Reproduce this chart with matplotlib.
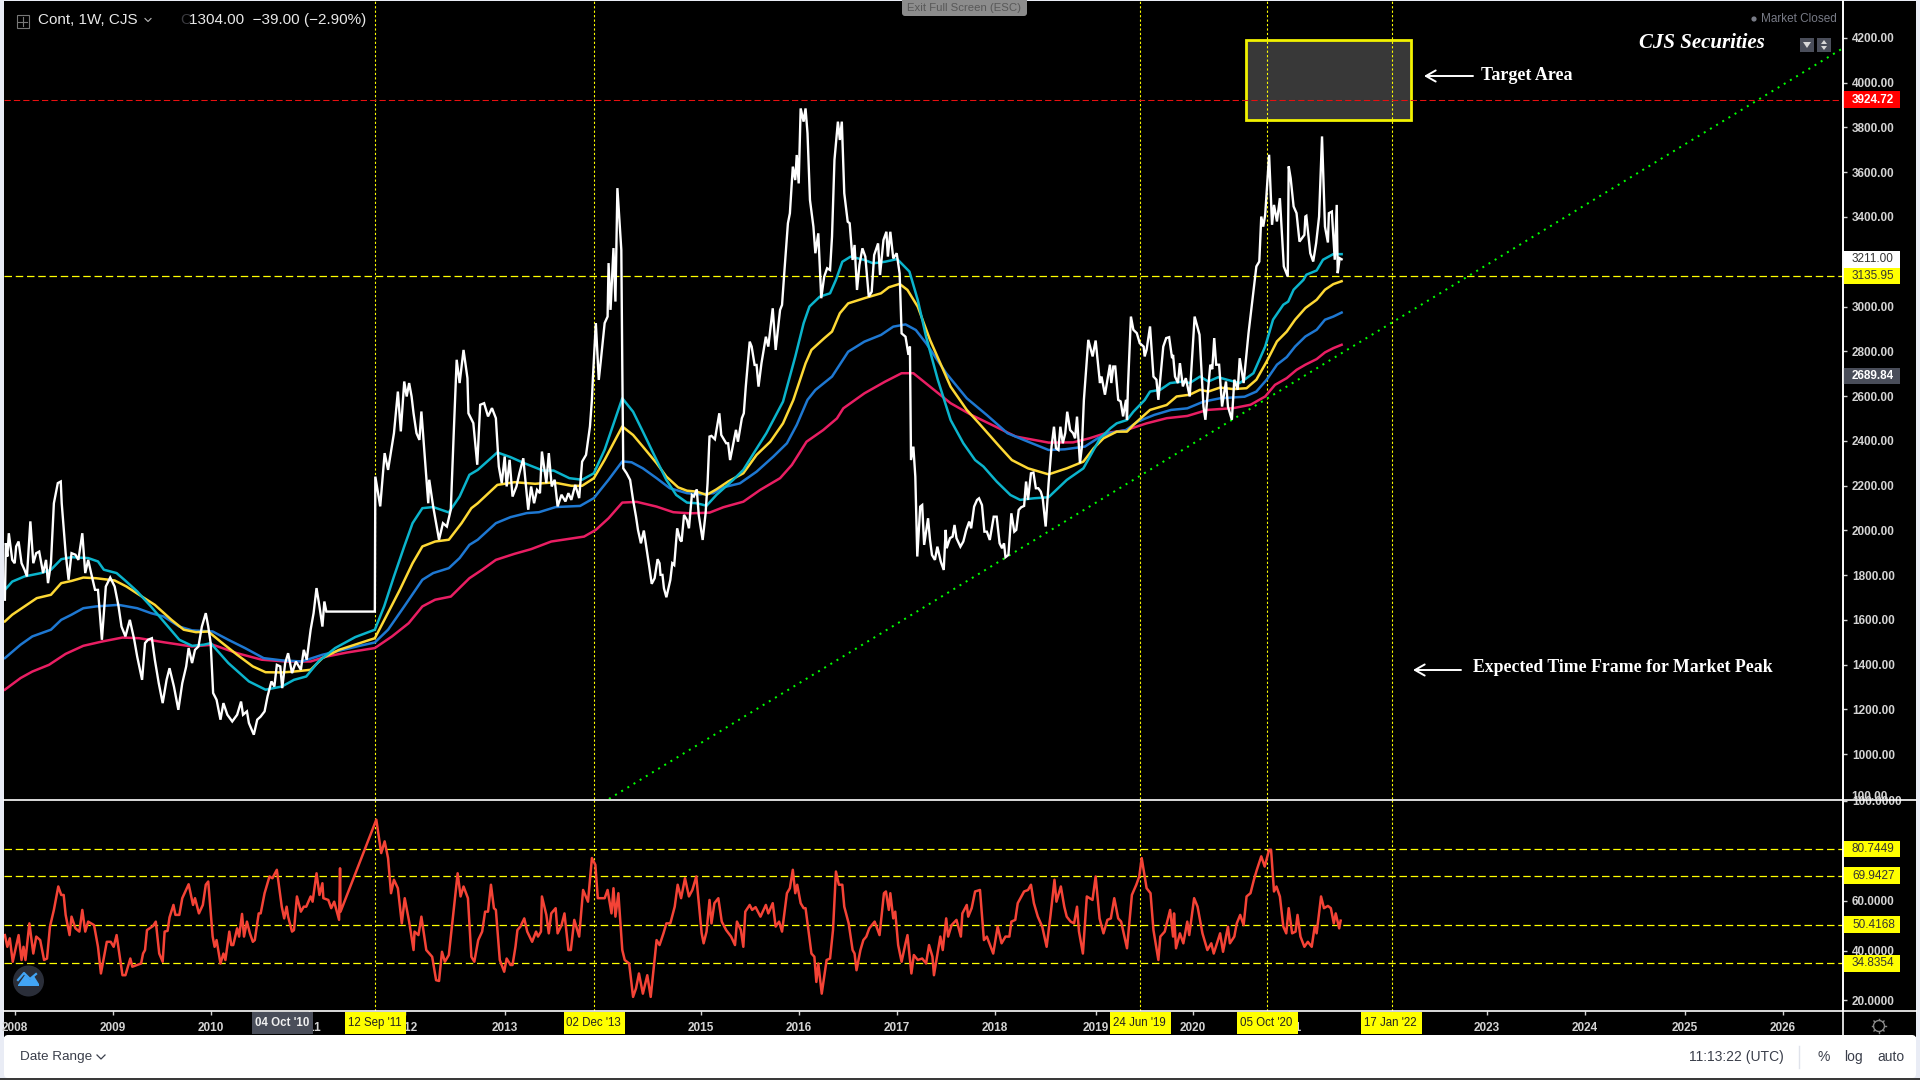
import matplotlib
matplotlib.use("Agg")
import matplotlib.pyplot as plt
from matplotlib.patches import Rectangle, Circle, Polygon, FancyBboxPatch

close_t = [2007.90,2007.91,2007.925,2007.94,2007.975,2008.00,2008.015,2008.04,2008.07,2008.10,2008.125,2008.16,2008.19,2008.22,2008.25,2008.29,2008.32,2008.34,2008.37,2008.40,2008.44,2008.47,2008.48,2008.52,2008.55,2008.58,2008.62,2008.65,2008.69,2008.72,2008.75,2008.78,2008.82,2008.85,2008.89,2008.93,2008.975,2009.02,2009.06,2009.09,2009.13,2009.175,2009.22,2009.25,2009.30,2009.33,2009.36,2009.40,2009.43,2009.47,2009.51,2009.55,2009.58,2009.625,2009.67,2009.71,2009.75,2009.775,2009.81,2009.84,2009.875,2009.91,2009.95,2009.975,2010.00,2010.025,2010.06,2010.10,2010.13,2010.17,2010.22,2010.27,2010.31,2010.33,2010.37,2010.39,2010.44,2010.475,2010.51,2010.55,2010.58,2010.62,2010.65,2010.675,2010.71,2010.73,2010.76,2010.79,2010.83,2010.87,2010.92,2010.95,2010.98,2011.02,2011.05,2011.08,2011.11,2011.14,2011.16,2011.18,2011.675,2011.68,2011.73,2011.775,2011.81,2011.87,2011.91,2011.94,2011.975,2012.00,2012.025,2012.05,2012.07,2012.10,2012.13,2012.15,2012.19,2012.22,2012.23,2012.27,2012.33,2012.37,2012.41,2012.45,2012.48,2012.51,2012.54,2012.58,2012.62,2012.63,2012.68,2012.72,2012.75,2012.79,2012.83,2012.87,2012.91,2012.94,2012.97,2013.00,2013.02,2013.05,2013.08,2013.12,2013.15,2013.19,2013.24,2013.27,2013.30,2013.33,2013.36,2013.38,2013.425,2013.45,2013.48,2013.51,2013.54,2013.58,2013.62,2013.65,2013.68,2013.72,2013.76,2013.79,2013.83,2013.87,2013.89,2013.90,2013.93,2013.96,2013.98,2014.02,2014.05,2014.06,2014.08,2014.11,2014.13,2014.15,2014.19,2014.20,2014.21,2014.244,2014.28,2014.31,2014.34,2014.36,2014.39,2014.42,2014.45,2014.475,2014.50,2014.53,2014.56,2014.58,2014.59,2014.61,2014.625,2014.65,2014.69,2014.71,2014.73,2014.76,2014.79,2014.805,2014.83,2014.86,2014.88,2014.91,2014.93,2014.96,2014.98,2015.02,2015.05,2015.07,2015.09,2015.11,2015.145,2015.19,2015.21,2015.26,2015.28,2015.30,2015.36,2015.38,2015.42,2015.44,2015.46,2015.50,2015.52,2015.55,2015.57,2015.59,2015.62,2015.665,2015.69,2015.735,2015.765,2015.81,2015.83,2015.855,2015.89,2015.91,2015.94,2015.965,2015.98,2016.00,2016.02,2016.05,2016.07,2016.09,2016.115,2016.15,2016.17,2016.20,2016.23,2016.26,2016.29,2016.32,2016.34,2016.365,2016.40,2016.42,2016.44,2016.465,2016.50,2016.52,2016.55,2016.57,2016.595,2016.62,2016.65,2016.68,2016.715,2016.745,2016.77,2016.81,2016.83,2016.865,2016.895,2016.91,2016.935,2016.965,2017.00,2017.03,2017.05,2017.09,2017.12,2017.135,2017.146,2017.17,2017.19,2017.21,2017.24,2017.26,2017.28,2017.32,2017.34,2017.36,2017.39,2017.415,2017.45,2017.48,2017.50,2017.51,2017.544,2017.57,2017.59,2017.61,2017.65,2017.68,2017.71,2017.74,2017.76,2017.79,2017.82,2017.84,2017.87,2017.895,2017.92,2017.95,2017.99,2018.02,2018.05,2018.075,2018.095,2018.11,2018.14,2018.17,2018.20,2018.22,2018.245,2018.27,2018.30,2018.32,2018.34,2018.37,2018.395,2018.42,2018.445,2018.47,2018.49,2018.52,2018.55,2018.58,2018.605,2018.625,2018.65,2018.67,2018.695,2018.72,2018.74,2018.77,2018.80,2018.82,2018.84,2018.87,2018.89,2018.91,2018.955,2018.999,2019.03,2019.074,2019.09,2019.125,2019.176,2019.19,2019.21,2019.23,2019.26,2019.285,2019.31,2019.34,2019.35,2019.36,2019.39,2019.415,2019.45,2019.48,2019.52,2019.53,2019.55,2019.585,2019.62,2019.65,2019.67,2019.72,2019.75,2019.78,2019.81,2019.82,2019.84,2019.87,2019.89,2019.92,2019.95,2019.99,2020.04,2020.09,2020.13,2020.15,2020.18,2020.20,2020.22,2020.24,2020.26,2020.29,2020.32,2020.36,2020.38,2020.42,2020.445,2020.48,2020.50,2020.54,2020.59,2020.67,2020.70,2020.72,2020.74,2020.76,2020.80,2020.83,2020.85,2020.88,2020.91,2020.95,2020.99,2021.00,2021.02,2021.05,2021.08,2021.11,2021.16,2021.17,2021.18,2021.22,2021.25,2021.28,2021.31,2021.34,2021.37,2021.40,2021.41,2021.44,2021.47,2021.49,2021.50,2021.52,2021.54]
close_p = [1690,1943,1883,1987,1868,1853,1928,1950,1853,1824,1794,2040,1853,1898,1905,1809,1868,1764,1853,2121,2211,2218,2121,1898,1779,1898,1891,1868,1987,1809,1868,1809,1734,1734,1511,1749,1789,1749,1660,1570,1526,1600,1511,1436,1332,1496,1511,1518,1422,1317,1228,1332,1384,1302,1198,1317,1392,1474,1407,1466,1481,1570,1630,1570,1496,1273,1243,1154,1228,1176,1146,1176,1235,1176,1191,1139,1087,1154,1168,1191,1258,1325,1302,1399,1392,1295,1407,1451,1362,1414,1377,1466,1422,1556,1630,1742,1660,1570,1682,1637,1637,2240,2107,2345,2270,2434,2620,2442,2665,2598,2658,2598,2523,2434,2404,2531,2300,2121,2226,2107,1958,2032,2017,2092,2434,2762,2658,2806,2680,2523,2479,2293,2561,2568,2509,2546,2501,2285,2211,2330,2196,2315,2151,2196,2255,2322,2092,2196,2121,2181,2166,2352,2211,2345,2196,2226,2107,2159,2129,2166,2136,2203,2144,2307,2337,2464,2583,2680,2926,2672,2754,2926,2955,3194,2985,3261,3022,3529,3253,2732,2277,2255,2225,2136,2061,2002,1942,1999,1912,1838,1761,1786,1871,1853,1801,1801,1741,1701,1778,1853,1845,2009,1957,1950,2069,2046,2009,2158,2151,2183,2069,1957,2076,2210,2419,2422,2407,2523,2426,2389,2389,2314,2449,2396,2501,2523,2642,2843,2821,2739,2739,2642,2746,2865,2821,2992,2806,2985,3007,3163,3372,3416,3625,3565,3677,3550,3885,3826,3885,3774,3476,3357,3238,3327,3037,3133,3171,3163,3312,3655,3826,3744,3826,3506,3379,3372,3208,3275,3074,3186,3260,3223,3044,3066,3230,3282,3141,3297,3334,3223,3334,3215,3238,3148,2880,2865,2784,2821,2314,2374,2240,1883,2106,2113,1935,2054,1957,1890,1868,1927,1860,1823,2002,1920,1965,1972,2024,1965,1927,1950,2002,2039,2009,2106,2136,2143,2113,1994,1994,1957,2061,2061,1942,1920,1942,1880,1890,2076,1994,2002,2091,2103,2109,2218,2136,2255,2258,2188,2188,2173,2143,2017,2210,2374,2463,2367,2359,2463,2389,2434,2530,2448,2434,2411,2508,2300,2374,2582,2851,2777,2848,2658,2687,2606,2740,2658,2732,2732,2583,2576,2509,2583,2494,2643,2955,2896,2881,2836,2821,2777,2807,2911,2687,2673,2583,2821,2859,2863,2769,2784,2687,2658,2747,2643,2680,2598,2955,2874,2553,2494,2643,2740,2720,2859,2740,2740,2553,2665,2553,2494,2673,2628,2769,2658,2881,3179,3201,3402,3357,3410,3678,3365,3454,3380,3484,3179,3134,3626,3573,3447,3417,3290,3320,3402,3405,3238,3201,3283,3402,3760,3357,3286,3417,3424,3209,3454,3149,3216,3211]

ema_cyan_t = [2007.90,2007.975,2008.10,2008.27,2008.37,2008.475,2008.58,2008.75,2008.85,2008.91,2009.04,2009.14,2009.25,2009.39,2009.52,2009.68,2009.81,2009.93,2010.00,2010.18,2010.39,2010.56,2010.725,2010.85,2010.975,2011.10,2011.27,2011.475,2011.675,2011.77,2011.87,2011.975,2012.06,2012.16,2012.27,2012.43,2012.54,2012.64,2012.725,2012.925,2013.06,2013.20,2013.39,2013.50,2013.66,2013.79,2013.91,2014.02,2014.20,2014.31,2014.41,2014.55,2014.65,2014.75,2014.86,2014.96,2015.06,2015.16,2015.33,2015.435,2015.54,2015.67,2015.84,2015.965,2016.05,2016.11,2016.215,2016.32,2016.38,2016.445,2016.53,2016.67,2016.76,2016.88,2017.005,2017.13,2017.215,2017.30,2017.42,2017.55,2017.68,2017.80,2017.885,2018.02,2018.16,2018.26,2018.395,2018.55,2018.735,2018.905,2018.99,2019.075,2019.18,2019.245,2019.35,2019.415,2019.53,2019.585,2019.69,2019.79,2019.925,2019.99,2020.095,2020.18,2020.28,2020.37,2020.50,2020.64,2020.76,2020.84,2020.945,2020.995,2021.05,2021.15,2021.18,2021.285,2021.35,2021.455,2021.54]
ema_cyan_p = [1734,1771,1794,1809,1824,1871,1880,1876,1861,1824,1809,1771,1727,1660,1593,1511,1484,1489,1496,1407,1325,1288,1302,1332,1347,1414,1474,1523,1556,1660,1794,1928,2032,2099,2104,2080,2151,2248,2270,2348,2327,2300,2267,2267,2233,2226,2255,2360,2590,2530,2441,2314,2225,2158,2124,2121,2110,2158,2225,2270,2344,2434,2575,2776,2925,3000,3044,3059,3119,3200,3223,3208,3193,3200,3212,3156,3029,2865,2672,2493,2389,2314,2285,2218,2158,2136,2143,2148,2225,2277,2344,2411,2456,2478,2493,2530,2582,2620,2628,2658,2665,2658,2687,2665,2684,2673,2658,2702,2821,2941,3008,3022,3075,3119,3142,3161,3209,3234,3234]

ema_yellow_t = [2007.90,2007.975,2008.10,2008.225,2008.37,2008.475,2008.58,2008.70,2008.83,2009.02,2009.14,2009.27,2009.43,2009.60,2009.725,2009.85,2009.975,2010.10,2010.27,2010.43,2010.56,2010.725,2010.85,2011.02,2011.14,2011.31,2011.52,2011.675,2011.79,2011.93,2012.06,2012.16,2012.29,2012.43,2012.56,2012.66,2012.725,2012.925,2013.10,2013.31,2013.50,2013.68,2013.79,2013.91,2014.02,2014.20,2014.31,2014.41,2014.55,2014.65,2014.77,2014.86,2014.96,2015.06,2015.16,2015.28,2015.435,2015.57,2015.71,2015.84,2015.945,2016.07,2016.13,2016.26,2016.34,2016.42,2016.505,2016.67,2016.84,2016.92,2017.03,2017.11,2017.215,2017.34,2017.55,2017.715,2017.84,2018.05,2018.175,2018.34,2018.55,2018.735,2018.905,2019.01,2019.11,2019.245,2019.35,2019.415,2019.585,2019.755,2019.856,2019.99,2020.095,2020.18,2020.30,2020.435,2020.57,2020.67,2020.775,2020.88,2020.98,2021.065,2021.17,2021.285,2021.37,2021.455,2021.54]
ema_yellow_p = [1593,1623,1660,1697,1712,1764,1774,1789,1786,1776,1749,1712,1667,1600,1556,1545,1548,1503,1444,1392,1366,1365,1369,1377,1429,1466,1496,1518,1615,1734,1853,1928,1950,1958,2032,2099,2121,2203,2215,2208,2214,2199,2199,2233,2315,2464,2426,2374,2300,2240,2192,2177,2173,2158,2183,2218,2255,2337,2396,2478,2582,2746,2806,2858,2888,2970,3014,3037,3059,3086,3101,3074,2999,2851,2642,2538,2478,2374,2314,2277,2250,2277,2307,2367,2411,2441,2441,2471,2538,2560,2598,2606,2628,2620,2638,2631,2635,2673,2754,2844,2888,2941,2993,3030,3075,3100,3113]

ema_blue_t = [2007.90,2008.06,2008.18,2008.37,2008.475,2008.58,2008.70,2008.83,2009.06,2009.25,2009.39,2009.52,2009.68,2009.81,2010.02,2010.18,2010.35,2010.54,2010.725,2010.93,2011.14,2011.35,2011.52,2011.675,2011.81,2011.975,2012.16,2012.27,2012.43,2012.54,2012.64,2012.725,2012.91,2013.06,2013.225,2013.35,2013.52,2013.77,2013.91,2014.06,2014.20,2014.295,2014.41,2014.55,2014.685,2014.86,2014.99,2015.13,2015.23,2015.40,2015.57,2015.74,2015.88,2015.98,2016.09,2016.17,2016.34,2016.505,2016.67,2016.84,2016.965,2017.09,2017.195,2017.30,2017.505,2017.715,2017.92,2018.13,2018.34,2018.55,2018.715,2018.92,2019.05,2019.17,2019.34,2019.46,2019.63,2019.80,2019.965,2020.13,2020.30,2020.55,2020.67,2020.775,2020.88,2020.98,2021.065,2021.17,2021.285,2021.37,2021.455,2021.54]
ema_blue_p = [1429,1489,1526,1556,1600,1623,1652,1660,1667,1652,1630,1615,1570,1553,1548,1511,1474,1429,1419,1414,1444,1466,1484,1499,1556,1660,1779,1809,1831,1876,1935,1958,2032,2059,2077,2081,2104,2109,2144,2226,2308,2304,2277,2233,2188,2166,2161,2166,2192,2210,2262,2329,2389,2471,2583,2627,2687,2798,2843,2873,2910,2920,2895,2836,2702,2590,2515,2434,2396,2359,2362,2374,2411,2434,2448,2486,2516,2538,2545,2575,2590,2597,2620,2673,2740,2774,2821,2866,2896,2941,2955,2973]

ema_pink_t = [2007.90,2008.06,2008.18,2008.35,2008.52,2008.70,2008.89,2009.10,2009.27,2009.52,2009.81,2010.02,2010.27,2010.52,2010.77,2011.02,2011.18,2011.39,2011.675,2011.85,2012.02,2012.16,2012.29,2012.45,2012.64,2012.77,2012.91,2013.10,2013.27,2013.475,2013.81,2013.93,2014.06,2014.20,2014.35,2014.55,2014.72,2014.89,2015.09,2015.23,2015.435,2015.605,2015.81,2015.93,2016.08,2016.25,2016.39,2016.455,2016.67,2016.88,2017.05,2017.17,2017.34,2017.55,2017.76,2018.01,2018.215,2018.55,2018.80,2018.965,2019.13,2019.34,2019.55,2019.755,2019.965,2020.17,2020.435,2020.61,2020.76,2020.86,2020.98,2021.08,2021.17,2021.285,2021.37,2021.455,2021.54]
ema_pink_p = [1288,1340,1369,1399,1448,1484,1503,1521,1518,1500,1481,1489,1451,1422,1414,1414,1436,1454,1474,1526,1585,1660,1690,1704,1786,1824,1868,1895,1916,1950,1972,2002,2054,2124,2127,2106,2081,2076,2079,2103,2128,2180,2233,2292,2396,2448,2500,2545,2612,2664,2702,2702,2642,2568,2516,2463,2419,2392,2393,2411,2434,2448,2478,2501,2511,2538,2546,2561,2598,2650,2680,2717,2740,2765,2795,2814,2829]

rsi_t = [2007.90,2007.925,2007.95,2007.98,2008.04,2008.07,2008.09,2008.11,2008.15,2008.19,2008.22,2008.26,2008.30,2008.33,2008.36,2008.40,2008.445,2008.475,2008.50,2008.52,2008.56,2008.58,2008.62,2008.66,2008.69,2008.72,2008.75,2008.81,2008.85,2008.88,2008.94,2008.98,2009.01,2009.04,2009.10,2009.13,2009.18,2009.20,2009.29,2009.31,2009.33,2009.35,2009.41,2009.44,2009.475,2009.51,2009.53,2009.56,2009.58,2009.62,2009.64,2009.68,2009.71,2009.775,2009.82,2009.84,2009.88,2009.92,2009.95,2009.975,2010.02,2010.04,2010.06,2010.10,2010.13,2010.15,2010.19,2010.21,2010.23,2010.27,2010.29,2010.32,2010.34,2010.37,2010.40,2010.43,2010.45,2010.49,2010.51,2010.55,2010.60,2010.63,2010.675,2010.725,2010.75,2010.775,2010.79,2010.83,2010.85,2010.88,2010.92,2010.95,2010.975,2011.02,2011.04,2011.08,2011.11,2011.14,2011.15,2011.20,2011.23,2011.26,2011.31,2011.32,2011.325,2011.69,2011.74,2011.775,2011.81,2011.84,2011.87,2011.91,2011.95,2011.98,2012.025,2012.07,2012.08,2012.12,2012.15,2012.20,2012.26,2012.30,2012.33,2012.36,2012.39,2012.43,2012.52,2012.55,2012.58,2012.625,2012.66,2012.69,2012.73,2012.77,2012.80,2012.83,2012.86,2012.89,2012.91,2012.95,2012.995,2013.02,2013.06,2013.08,2013.11,2013.13,2013.16,2013.20,2013.23,2013.28,2013.32,2013.34,2013.37,2013.38,2013.425,2013.45,2013.475,2013.52,2013.54,2013.58,2013.61,2013.65,2013.675,2013.71,2013.76,2013.80,2013.85,2013.89,2013.925,2013.95,2014.02,2014.05,2014.09,2014.11,2014.13,2014.16,2014.18,2014.20,2014.225,2014.27,2014.31,2014.34,2014.37,2014.41,2014.455,2014.49,2014.55,2014.58,2014.62,2014.65,2014.69,2014.735,2014.765,2014.80,2014.84,2014.88,2014.915,2014.955,2015.01,2015.03,2015.06,2015.09,2015.11,2015.14,2015.18,2015.215,2015.26,2015.31,2015.35,2015.37,2015.41,2015.435,2015.455,2015.50,2015.525,2015.56,2015.61,2015.665,2015.69,2015.735,2015.765,2015.80,2015.83,2015.88,2015.91,2015.94,2015.965,2015.985,2016.02,2016.05,2016.07,2016.13,2016.16,2016.18,2016.20,2016.235,2016.285,2016.32,2016.35,2016.38,2016.41,2016.445,2016.465,2016.51,2016.55,2016.57,2016.59,2016.63,2016.66,2016.69,2016.72,2016.775,2016.825,2016.87,2016.89,2016.92,2016.935,2016.965,2016.985,2017.015,2017.05,2017.09,2017.11,2017.15,2017.175,2017.215,2017.26,2017.30,2017.33,2017.365,2017.38,2017.445,2017.47,2017.505,2017.525,2017.56,2017.61,2017.655,2017.67,2017.715,2017.73,2017.765,2017.80,2017.85,2017.89,2017.92,2017.985,2018.03,2018.07,2018.11,2018.15,2018.17,2018.21,2018.235,2018.30,2018.34,2018.37,2018.40,2018.44,2018.485,2018.53,2018.57,2018.61,2018.63,2018.675,2018.71,2018.735,2018.775,2018.81,2018.84,2018.86,2018.90,2018.94,2018.998,2019.03,2019.07,2019.11,2019.15,2019.185,2019.22,2019.26,2019.29,2019.32,2019.35,2019.40,2019.445,2019.475,2019.50,2019.55,2019.59,2019.62,2019.67,2019.69,2019.735,2019.79,2019.82,2019.83,2019.85,2019.89,2019.925,2019.965,2019.985,2020.035,2020.07,2020.12,2020.17,2020.21,2020.235,2020.30,2020.33,2020.38,2020.40,2020.445,2020.47,2020.505,2020.54,2020.57,2020.61,2020.645,2020.675,2020.72,2020.755,2020.80,2020.82,2020.85,2020.875,2020.91,2020.945,2020.975,2021.00,2021.035,2021.07,2021.09,2021.12,2021.16,2021.195,2021.235,2021.265,2021.285,2021.33,2021.36,2021.40,2021.43,2021.46,2021.48,2021.515,2021.53]
rsi_v = [46.2,41.5,44.9,35.5,46.2,36.2,41.5,36.2,50.9,38.8,45.6,44.2,36.2,36.8,49.6,56.3,65.7,62.3,62.3,54.3,46.2,53.6,48.9,47.6,56.3,47.6,51.6,50.2,41.5,30.8,43.5,43.5,41.5,46.2,30.1,30.1,36.8,33.5,34.8,38.8,40.2,48.2,49.8,51.6,38.8,35.5,47.6,47.9,53.3,58.3,54.3,54.3,61,66.6,58.3,61,54.9,58.3,66.4,67.7,45.6,41.5,44.2,34.8,38.8,36.2,47.6,42.2,42.2,48.9,45.6,54.7,45.6,51.6,46.9,43.5,44.2,54.9,54.9,63,69.7,69,72.4,57.6,52.9,57.6,53.6,47.6,48.2,61.7,55.6,57.6,57.6,61.7,59.6,71,62.3,67,61,60.3,57,59.6,52.3,73,55.6,92.5,79.1,83.8,77.1,63,68.4,65,50.9,61,51.6,40.2,47.6,46.2,53.6,40.2,37.5,28.1,27.8,39.5,35.5,38.2,71,61.7,65.7,61,37.5,35.5,44.2,47.6,55.6,55.6,66.4,57,56.3,36.2,31.5,36.8,34.2,34.2,41.5,48.2,49.6,52.9,47.6,43.5,47.6,45.6,47.6,61.7,54.3,46.9,54.9,57,46.9,50.2,54.9,40.2,40.2,52.3,45.6,64.3,59.6,77.1,74.4,61,61,64.3,54.9,65,53.6,63,51.6,40.2,36.2,34.8,21.4,24.8,30.8,22.7,30.1,21.4,44.2,42.2,46.9,50.9,50.9,57.6,66.4,61,69,61.7,64.3,69.7,46.9,42.9,47.6,60.3,50.9,59,61,51.6,48.2,45.6,42.2,51.6,48.2,41.5,55.6,58.3,56.3,57.4,53.6,58.3,54.9,59,49.6,51.6,47.6,63,65,72.4,63,66.4,59,57,57,38.8,37.5,27.4,34.8,22.7,36.2,36.8,48.2,71.7,66.4,66.4,57.6,50.9,40.2,38.8,32.1,40.2,44.2,45.6,48.9,51.6,46.2,63,63.7,56.3,63,52.9,55.6,42.2,35.5,42.9,46.2,30.8,38.2,36.2,36.8,34.8,42.2,37.5,30.1,45.6,40.2,52.9,45.6,50.2,52.3,45.6,54.9,58.3,53.6,57,63.7,64.3,44.2,45.6,38.8,49.6,42.9,45.6,45.6,51.6,52.3,59,63.7,64.3,66.4,59,53.6,49.6,41.5,54.3,68.4,59.6,65.7,57.6,53.6,51.6,50.9,57.6,47.6,38.8,61.7,60.3,69.7,52.9,46.9,52.3,52.9,61,52.9,51.6,46.2,40.9,62.3,66.4,69.7,77.1,65,63,48.2,36.2,45.6,47.6,56.3,45.6,54.9,40.9,46.9,42.9,51.6,46.2,61,57.6,46.9,40.2,42.9,38.8,46.9,39.5,49.6,42.9,45.6,50.9,54.3,50.2,61.7,63,68.4,72.4,77.8,73.7,80.4,80.4,63.7,65.7,61.7,49.6,46.9,57,46.9,47.6,54.3,45.6,41.5,43.5,41.5,49.6,46.9,61.7,57,57.9,57,50.9,54.9,48.9,52]

price_ticks = [4200,4000,3800,3600,3400,3200,3000,2800,2600,2400,2200,2000,1800,1600,1400,1200,1000]
rsi_ticks = [100,80,60,40,20]
year_ticks = [2008,2009,2010,2011,2011.98,2013,2015,2016,2017,2018,2019.03,2020.02,2021,2023.02,2024.02,2025.04,2026.04]
year_labels = ['2008','2009','2010','2011','2012','2013','2015','2016','2017','2018','2019','2020','2021','2023','2024','2025','2026']
cycle_dates = [2011.68,2013.914,2019.487,2020.78,2022.05]
cycle_labels = ["12 Sep '11","02 Dec '13","24 Jun '19","05 Oct '20","17 Jan '22"]
resistance_level = 3924.72
support_level = 3135.95
last_close = 3211.00
cursor_price = 2689.84
rsi_levels = [80.7449,69.9427,50.4168,34.8354]
trend_t = [2014.064,2026.64]
trend_p = [800,4150]
target_t = [2020.565,2022.25]
target_p = [3834,4191]

SANS = 'Liberation Sans'
SERIF = 'Liberation Serif'
PAGE = '#e9ecf5'
SLATE = '#4a4e5a'
TICK = '#d4d4d4'
YEL = '#ffff00'

fig = plt.figure(figsize=(19.2,10.8), dpi=100, facecolor=PAGE)
L,R = 4,1843
def rect(top,bot): return [L/1920, 1-bot/1080, (R-L)/1920, (bot-top)/1080]
ax_p = fig.add_axes(rect(1,799), facecolor='black')
ax_r = fig.add_axes(rect(800,1011), facecolor='black', sharex=ax_p)
ov = fig.add_axes([0,0,1,1], facecolor='none', zorder=20)
ov.set_xlim(0,1920); ov.set_ylim(1080,0); ov.axis('off')
back = fig.add_axes([0,0,1,1], facecolor='none', zorder=-5)
back.set_xlim(0,1920); back.set_ylim(1080,0); back.axis('off')
back.add_patch(Rectangle((4,1),1912,1036,fc='black',ec='none'))
back.add_patch(FancyBboxPatch((6,1037),1908,39,boxstyle='round,pad=2,rounding_size=4',fc='white',ec='none'))
back.add_patch(Rectangle((0,1078),1920,2,fc='#3a3a3a',ec='none'))

ax_p.set_xlim(2007.891,2026.656)
ax_p.set_ylim(799.6,4365)
ax_r.set_ylim(15.74,100.4)

ax_p.add_patch(Rectangle((target_t[0],target_p[0]),target_t[1]-target_t[0],target_p[1]-target_p[0],fc='#383838',ec='#f2f200',lw=2,zorder=1))

for ax in (ax_p,ax_r):
    for d in cycle_dates:
        ax.axvline(d,color=YEL,lw=0.8,ls=(0,(2,2)),zorder=2)
    ax.set_facecolor('black')
    for s in ax.spines.values(): s.set_visible(False)
    ax.spines['right'].set_visible(True); ax.spines['right'].set_color('white'); ax.spines['right'].set_linewidth(1.2)
    ax.yaxis.tick_right()
    ax.tick_params(axis='y',colors=TICK,length=3,width=1,pad=3.4,labelsize=8.5)

dash = (0,(6,3))
ax_p.axhline(resistance_level,color='#e81010',lw=0.75,ls=dash,zorder=2)
ax_p.axhline(support_level,color=YEL,lw=0.9,ls=dash,zorder=2)
ax_p.plot(trend_t,trend_p,color='#00ff00',lw=1.44,ls=(0,(1,2.6)),zorder=3)
ax_p.plot(ema_pink_t,ema_pink_p,color='#e91e63',lw=1.8,zorder=4)
ax_p.plot(ema_blue_t,ema_blue_p,color='#1e78d2',lw=1.8,zorder=5)
ax_p.plot(ema_yellow_t,ema_yellow_p,color='#fdd835',lw=1.8,zorder=6)
ax_p.plot(ema_cyan_t,ema_cyan_p,color='#0bb4cc',lw=1.8,zorder=7)
ax_p.plot(close_t,close_p,color='white',lw=1.7,zorder=8,solid_joinstyle='miter')
ax_p.set_yticks(price_ticks)
ax_p.set_yticklabels([f'{v:.2f}' for v in price_ticks],fontfamily=SANS,fontweight='bold')
ax_p.tick_params(axis='x',bottom=False,labelbottom=False)

for v in rsi_levels:
    ax_r.axhline(v,color=YEL,lw=0.9,ls=dash,zorder=2)
ax_r.plot(rsi_t,rsi_v,color='#f44336',lw=1.8,zorder=5)
ax_r.set_yticks(rsi_ticks)
ax_r.set_yticklabels([f'{v:.4f}' for v in rsi_ticks],fontfamily=SANS,fontweight='bold')
ax_r.set_xticks(year_ticks)
ax_r.set_xticklabels(year_labels,fontfamily=SANS,fontweight='bold')
ax_r.tick_params(axis='x',colors=TICK,length=3,width=1,pad=5,labelsize=8.5)

def tag(ax,value,text,bg,fg,half,weight='normal'):
    tr = ax.get_yaxis_transform()
    ax.add_patch(Rectangle((1.0,value-half),57/1839,2*half,transform=tr,fc=bg,ec='none',clip_on=False,zorder=10))
    ax.text(1+9/1839,value,text,transform=tr,color=fg,fontsize=8.5,fontfamily=SANS,fontweight=weight,va='center',ha='left',zorder=11,clip_on=False)

tag(ax_p,resistance_level,f'{resistance_level:.2f}','#ff0000','white',37,'bold')
tag(ax_p,last_close,f'{last_close:.2f}','white','#333333',37)
tag(ax_p,support_level,f'{support_level:.2f}',YEL,'#333333',37)
tag(ax_p,cursor_price,f'{cursor_price:.2f}',SLATE,'white',37,'bold')
for v in rsi_levels:
    tag(ax_r,v,f'{v:.4f}',YEL,'#333333',3.4)

def tx(t): return 14.7+(t-2008)*98
for d,l in zip(cycle_dates,cycle_labels):
    ov.add_patch(Rectangle((tx(d)-30.5,1012),61,22,fc=YEL,ec='none'))
    ov.text(tx(d)-1,1023,l,color='#222222',fontsize=8.3,fontfamily=SANS,ha='center',va='center')
ov.add_patch(Rectangle((252,1012),61,22,fc=SLATE,ec='none'))
ov.text(282,1023,"04 Oct '10",color='#f0f0f0',fontsize=8.3,fontfamily=SANS,fontweight='bold',ha='center',va='center')

ov.plot([4,1916],[800,800],color='white',lw=1.2)
ov.plot([4,1916],[1011,1011],color='white',lw=1.2)
ov.plot([1843,1843],[1,1037],color='white',lw=1.2)
ov.text(1851,797,'100.00',color=TICK,fontsize=8.5,fontfamily=SANS,fontweight='bold',va='center')

ov.add_patch(Rectangle((16.5,15),12,13,fc='none',ec='#777777',lw=0.8))
ov.plot([22.5,22.5],[17,26],color='#777777',lw=0.8); ov.plot([18,27],[21.5,21.5],color='#777777',lw=0.8)
ov.text(38.5,20,'Cont, 1W, CJS',color='#e8e8e8',fontsize=11,fontfamily=SANS,va='center')
ov.plot([145,148,151],[18.5,21.5,18.5],color='#bbbbbb',lw=0.8)
ov.text(180,20,'C',color='#3a3a3f',fontsize=11,fontfamily=SANS,va='center')
ov.text(189,20,'1304.00  \u221239.00 (\u22122.90%)',color='#e8e8e8',fontsize=11,fontfamily=SANS,va='center')
ov.add_patch(FancyBboxPatch((902,-3),125,19,boxstyle='round,pad=0,rounding_size=3',fc='#8c8c8c',ec='none'))
ov.text(964,8,'Exit Full Screen (ESC)',color='#585858',fontsize=8.2,fontfamily=SANS,ha='center',va='center')
ov.add_patch(Circle((1754,19),2.6,fc='#787b86',ec='none'))
ov.text(1761,19,'Market Closed',color='#787b86',fontsize=8.5,fontfamily=SANS,va='center')
ov.text(1639,43,'CJS Securities',color='white',fontsize=15,fontfamily=SERIF,fontweight='bold',fontstyle='italic',va='center')
ov.add_patch(Rectangle((1800,38),14,14,fc=SLATE,ec='none'))
ov.add_patch(Polygon([[1803,42],[1811,42],[1807,48]],fc='#d8d8d8',ec='none'))
ov.add_patch(Rectangle((1817,38),14,14,fc=SLATE,ec='none'))
ov.add_patch(Polygon([[1821,44],[1827,44],[1824,40]],fc='#d8d8d8',ec='none'))
ov.add_patch(Polygon([[1821,46],[1827,46],[1824,50]],fc='#d8d8d8',ec='none'))

ov.text(1481,75,'Target Area',color='white',fontsize=13,fontfamily=SERIF,fontweight='bold',va='center')
ov.annotate('',xy=(1424,76),xytext=(1473,76),arrowprops=dict(arrowstyle='->,head_length=0.7,head_width=0.4',color='white',lw=1.4,shrinkA=0,shrinkB=0))
ov.text(1473,667,'Expected Time Frame for Market Peak',color='white',fontsize=12.8,fontfamily=SERIF,fontweight='bold',va='center')
ov.annotate('',xy=(1413,670),xytext=(1461,670),arrowprops=dict(arrowstyle='->,head_length=0.7,head_width=0.4',color='white',lw=1.4,shrinkA=0,shrinkB=0))

ov.add_patch(Circle((28.5,981),15.5,fc='#2a2e39',ec='none'))
ov.add_patch(Polygon([[18,985],[25,975],[30,980],[34,976],[39,984],[39,986],[18,986]],fc='#42a5f5',ec='none'))
ov.plot([18,24,30,36],[980,973,979,974],color='#42a5f5',lw=1.6)

ov.add_patch(Circle((1879,1026),5.5,fc='none',ec='#8a8a8a',lw=1))
for dx,dy in [(0,-7),(0,7),(-7,0),(7,0),(-5,-5),(5,-5),(-5,5),(5,5)]:
    ov.plot([1879+dx*0.8,1879+dx],[1026+dy*0.8,1026+dy],color='#8a8a8a',lw=1)

BAR = '#3a3e4a'
ov.text(20,1057,'Date Range',color=BAR,fontsize=9.7,fontfamily=SANS,va='center')
ov.plot([97,101,105],[1055,1059,1055],color=BAR,lw=0.9)
ov.text(1689,1057,'11:13:22 (UTC)',color=BAR,fontsize=10,fontfamily=SANS,va='center')
ov.plot([1799,1799],[1046,1068],color='#e0e3eb',lw=1)
ov.text(1817,1057,'%',color=BAR,fontsize=10,fontfamily=SANS,va='center')
ov.text(1844,1057,'log',color=BAR,fontsize=10,fontfamily=SANS,va='center')
ov.text(1877,1057,'auto',color=BAR,fontsize=10,fontfamily=SANS,va='center')

fig.savefig('out.png',dpi=100,facecolor=PAGE)
